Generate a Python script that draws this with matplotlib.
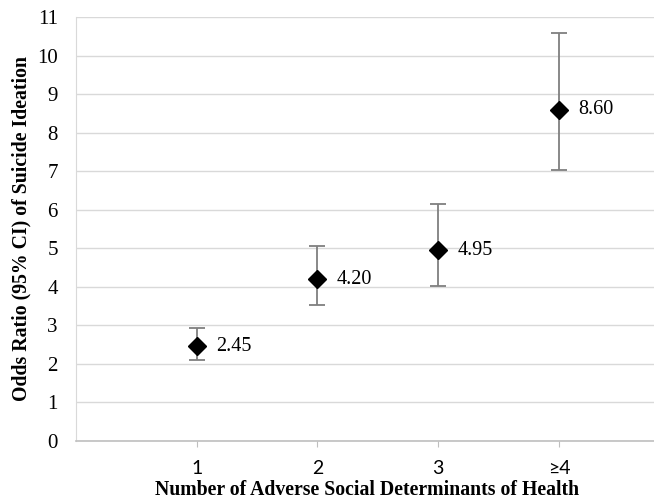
import matplotlib
matplotlib.use('Agg')
import matplotlib.pyplot as plt

plt.rcParams['font.family'] = ['Liberation Serif', 'DejaVu Serif']

# data
categories = ['1', '2', '3', '\u22654']
odds_ratio = [2.45, 4.20, 4.95, 8.60]
ci_low = [2.10, 3.52, 4.02, 7.03]
ci_high = [2.93, 5.07, 6.16, 10.58]
value_labels = ['2.45', '4.20', '4.95', '8.60']

x = list(range(1, len(categories) + 1))
err_low = [o - l for o, l in zip(odds_ratio, ci_low)]
err_high = [h - o for o, h in zip(odds_ratio, ci_high)]

fig = plt.figure(figsize=(6.54, 5.01), dpi=100)
ax = fig.add_axes([0.116, 0.12, 0.89, 0.846])

ax.errorbar(x, odds_ratio, yerr=[err_low, err_high], fmt='none',
            ecolor='#7f7f7f', elinewidth=1.3, capsize=6, capthick=1.3, zorder=2)
ax.plot(x, odds_ratio, linestyle='none', marker='D', markersize=9.5,
        color='black', zorder=3)

for xi, yi, txt in zip(x, odds_ratio, value_labels):
    ax.annotate(txt, (xi, yi), xytext=(14, 0), textcoords='offset points',
                va='center', ha='left', fontsize=14.5)

ax.set_xlim(0, 4.82)
ax.set_ylim(0, 11)
ax.set_yticks(range(0, 12))
ax.set_xticks(x)
ax.set_xticklabels(categories, family=['Lato', 'DejaVu Sans'])
ax.tick_params(axis='y', length=0, labelsize=15, pad=13)
ax.tick_params(axis='x', length=4, color='#bfbfbf', labelsize=14, pad=10)

ax.grid(axis='y', color='#d9d9d9', linewidth=1)
ax.set_axisbelow(True)
for s in ['top', 'right']:
    ax.spines[s].set_visible(False)
ax.spines['left'].set_color('#d9d9d9')
ax.spines['bottom'].set_color('#bfbfbf')
ax.spines['bottom'].set_linewidth(1.2)

ax.set_xlabel('Number of Adverse Social Determinants of Health',
              fontsize=14.2, fontweight='bold', labelpad=2)
ax.set_ylabel('Odds Ratio (95% CI) of Suicide Ideation',
              fontsize=14.2, fontweight='bold', labelpad=4)

fig.savefig('out.png', dpi=100)
